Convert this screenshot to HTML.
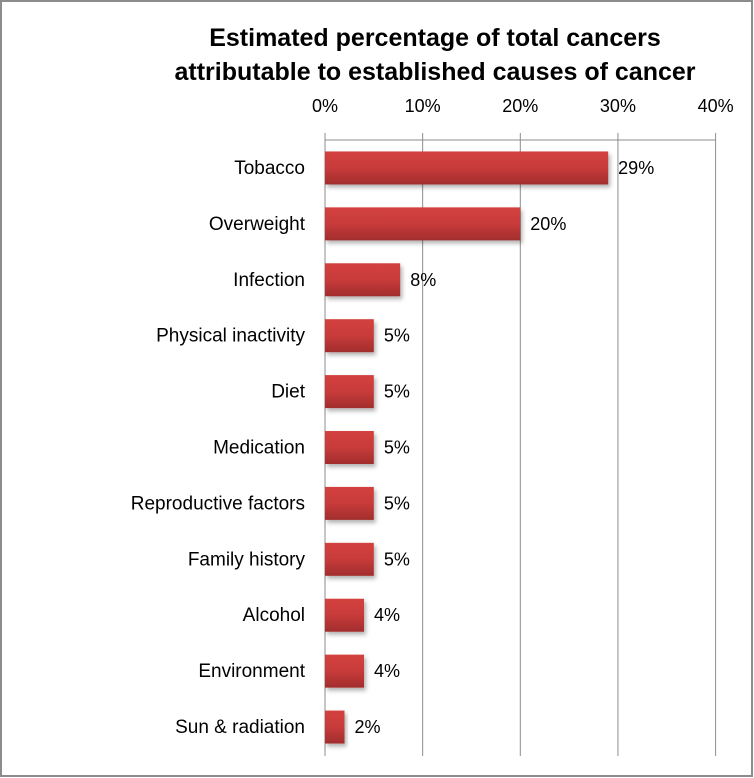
<!DOCTYPE html>
<html><head><meta charset="utf-8"><style>
html,body{margin:0;padding:0;background:#fff;}
svg{display:block;font-family:"Liberation Sans",sans-serif;}
</style></head><body>
<svg id="chart" width="754" height="778" xmlns="http://www.w3.org/2000/svg">
<defs>
<linearGradient id="barGrad" x1="0" y1="0" x2="0" y2="1">
<stop offset="0" stop-color="#d3423f"/><stop offset="0.5" stop-color="#c73b3a"/><stop offset="1" stop-color="#a22d2d"/>
</linearGradient>
<filter id="sh" x="-10%" y="-20%" width="130%" height="160%"><feDropShadow dx="2" dy="3" stdDeviation="2" flood-color="#000" flood-opacity="0.3"/></filter>
</defs>
<rect x="1" y="1" width="751" height="775" fill="#fff" stroke="#8c8c8c" stroke-width="2"/>
<text x="435" y="46" text-anchor="middle" font-size="25" font-weight="bold" fill="#000">Estimated percentage of total cancers</text>
<text x="435" y="80" text-anchor="middle" font-size="25" font-weight="bold" fill="#000">attributable to established causes of cancer</text>
<g id="grid"></g><g id="bars"></g>
</svg>
<script>
const categories=["Tobacco","Overweight","Infection","Physical inactivity","Diet","Medication","Reproductive factors","Family history","Alcohol","Environment","Sun & radiation"];
const values=[29,20,7.7,5,5,5,5,5,4,4,2];
const valueLabels=["29%","20%","8%","5%","5%","5%","5%","5%","4%","4%","2%"];
const ticks=[0,10,20,30,40];
const tickLabels=["0%","10%","20%","30%","40%"];
const NS="http://www.w3.org/2000/svg";
const x0=325,x1=715.6,xMax=40,plotTop=140,plotBottom=755,band=(plotBottom-plotTop)/categories.length,barH=33;
function xs(v){return x0+(x1-x0)*v/xMax;}
function mk(t,a,p){const e=document.createElementNS(NS,t);for(const k in a)e.setAttribute(k,a[k]);p.appendChild(e);return e;}
const gGrid=document.getElementById('grid'),gBars=document.getElementById('bars');
mk('line',{x1:x0,x2:x1,y1:plotTop,y2:plotTop,stroke:'#8c8c8c','stroke-width':1},gGrid);
ticks.forEach((t,i)=>{
 const l=mk('line',{x1:xs(t),x2:xs(t),y1:133,y2:756,stroke:'#8c8c8c','stroke-width':1},gGrid);
 
 
 const tx=mk('text',{x:xs(t),y:112,'text-anchor':'middle','font-size':18,fill:'#000'},gGrid);
 tx.textContent=tickLabels[i];
 
 
});
categories.forEach((c,i)=>{
 const cy=plotTop+band*(i+0.5);
 const r=mk('rect',{x:x0,y:cy-barH/2,width:xs(values[i])-x0,height:barH,fill:'url(#barGrad)',filter:'url(#sh)'},gBars);
 
 
 const lb=mk('text',{x:305,y:cy+6,'text-anchor':'end','font-size':19,fill:'#000'},gBars);
 lb.textContent=c;
 
 
 const vl=mk('text',{x:xs(values[i])+10,y:cy+6,'font-size':18,fill:'#000'},gBars);
 vl.textContent=valueLabels[i];
 
 
});
</script>
</body></html>
